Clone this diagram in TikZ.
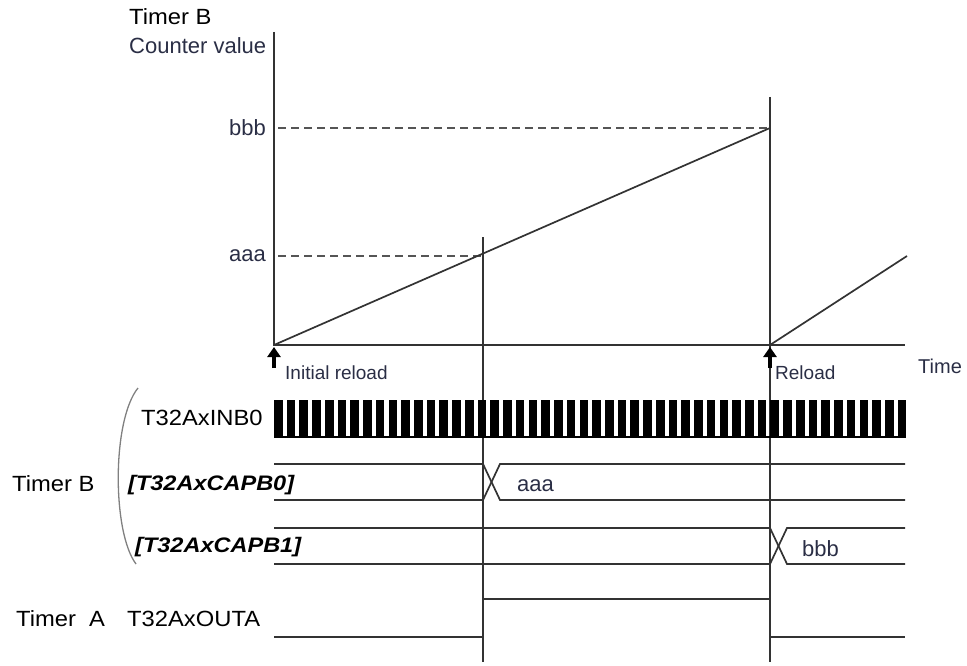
\documentclass[tikz,border=0pt]{standalone}
\usepackage{fontspec}
\setmainfont{Liberation Sans}
\newfontfamily\capfont[FakeStretch=1.12]{Liberation Sans}
\newfontfamily\widefont[FakeStretch=1.08]{Liberation Sans}
\usetikzlibrary{arrows.meta}
\definecolor{lc}{HTML}{333333}
\definecolor{txt}{HTML}{2A2E45}
\definecolor{dashc}{HTML}{555555}
\begin{document}
\begin{tikzpicture}[x=1pt,y=-1pt,
  lbl/.style={inner sep=0pt, font=\fontsize{22}{26}\selectfont, text=black},
  wlbl/.style={inner sep=0pt, font=\widefont\fontsize{22}{26}\selectfont, text=black},
  small/.style={inner sep=0pt, font=\fontsize{19}{22}\selectfont, text=txt},
  caplbl/.style={inner sep=0pt, font=\capfont\bfseries\itshape\fontsize{21}{24}\selectfont, text=black},
  axisline/.style={line width=2.3pt, draw=lc},
  sig/.style={line width=1.7pt, draw=lc},
  guide/.style={line width=1.5pt, draw=lc},
  dashline/.style={line width=1.6pt, draw=dashc, dash pattern=on 8pt off 5pt},
  uparrow/.style={line width=3.8pt, draw=black, -{Triangle[length=10pt,width=13pt]}},
  clk/.style={fill=black},
  brace/.style={line width=1.3pt, draw=gray}]
\useasboundingbox (0,0) rectangle (967,666);

% --- coordinates
\coordinate (O) at (274,345);
\coordinate (Ytop) at (274,32);
\coordinate (Xend) at (905,345);
\coordinate (B) at (770,128);
\coordinate (A) at (483,256);
\coordinate (Bax) at (278,128);
\coordinate (Aax) at (278,256);
\coordinate (R) at (770,345);
\coordinate (R2) at (907,256);
\coordinate (V1t) at (483,237);
\coordinate (V1b) at (483,662);
\coordinate (V2t) at (770,97);
\coordinate (V2b) at (770,662);
\coordinate (Ar1) at (274,368);
\coordinate (Ar1h) at (274,347);
\coordinate (Ar2) at (770,368);
\coordinate (Ar2h) at (770,347);

% --- graph texts
\node[wlbl, anchor=west] (tb) at (129,17) {Timer B};
\node[lbl, anchor=west, text=txt] (cv) at (129,46) {Counter value};
\node[lbl, anchor=east, text=txt] (lbbb) at (266,128) {bbb};
\node[lbl, anchor=east, text=txt] (laaa) at (266,256) {aaa};
\node[small, anchor=west, font=\fontsize{20}{22}\selectfont] (time) at (918,366) {Time};
\node[small, anchor=west] (ir) at (285,373) {Initial reload};
\node[small, anchor=west] (rl) at (775,373) {Reload};

% --- axes and graph
\draw[axisline] (Ytop) -- (O) -- (Xend);
\draw[dashline] (Bax) -- (B);
\draw[dashline] (Aax) -- (A);
\draw[sig] (O) -- (B);
\draw[sig] (R) -- (R2);
\draw[guide] (V1t) -- (V1b);
\draw[guide] (V2t) -- (V2b);
\draw[uparrow] (Ar1) -- (Ar1h);
\draw[uparrow] (Ar2) -- (Ar2h);

% --- signal labels
\node[wlbl, anchor=west] (inb) at (141,418) {T32AxINB0};
\node[wlbl, anchor=west] (tbl) at (12,484) {Timer B};
\node[caplbl, anchor=west] (c0) at (128,485) {[T32AxCAPB0]};
\node[caplbl, anchor=west] (c1) at (135,547) {[T32AxCAPB1]};
\node[wlbl, anchor=west] (tal) at (16,619) {Timer\ \ A};
\node[wlbl, anchor=west] (outa) at (127,619) {T32AxOUTA};
\node[lbl, anchor=west, text=txt] (vaaa) at (517,486) {aaa};
\node[lbl, anchor=west, text=txt] (vbbb) at (802,549) {bbb};

% --- bracket
\coordinate (brt) at (138,388);
\coordinate (brb) at (136,564);
\draw[brace] (brt) .. controls (112,420) and (112,532) .. (brb);

% --- clock
\foreach \i in {0,...,49} {
  \fill[clk] ({274+\i*12.73},400) rectangle +(8.6,37);
}
\coordinate (ck0) at (274,437);
\coordinate (ck1) at (906,437);
\draw[line width=1.4pt] (ck0) -- (ck1);

% --- CAPB0
\coordinate (c0a) at (274,464);
\coordinate (c0b) at (274,500);
\coordinate (c0x1) at (483,464);
\coordinate (c0x2) at (483,500);
\coordinate (c0y1) at (500,464);
\coordinate (c0y2) at (500,500);
\coordinate (c0e1) at (905,464);
\coordinate (c0e2) at (905,500);
\draw[sig] (c0a) -- (c0x1) -- (c0y2) -- (c0e2);
\draw[sig] (c0b) -- (c0x2) -- (c0y1) -- (c0e1);

% --- CAPB1
\coordinate (c1a) at (274,528);
\coordinate (c1b) at (274,564);
\coordinate (c1x1) at (770,528);
\coordinate (c1x2) at (770,564);
\coordinate (c1y1) at (787,528);
\coordinate (c1y2) at (787,564);
\coordinate (c1e1) at (905,528);
\coordinate (c1e2) at (905,564);
\draw[sig] (c1a) -- (c1x1) -- (c1y2) -- (c1e2);
\draw[sig] (c1b) -- (c1x2) -- (c1y1) -- (c1e1);

% --- OUTA
\coordinate (oa0) at (274,637);
\coordinate (oa1) at (483,637);
\coordinate (oa2) at (483,599);
\coordinate (oa3) at (770,599);
\coordinate (oa4) at (770,637);
\coordinate (oa5) at (905,637);
\draw[sig] (oa0) -- (oa1) -- (oa2) -- (oa3) -- (oa4) -- (oa5);
\end{tikzpicture}
\end{document}
